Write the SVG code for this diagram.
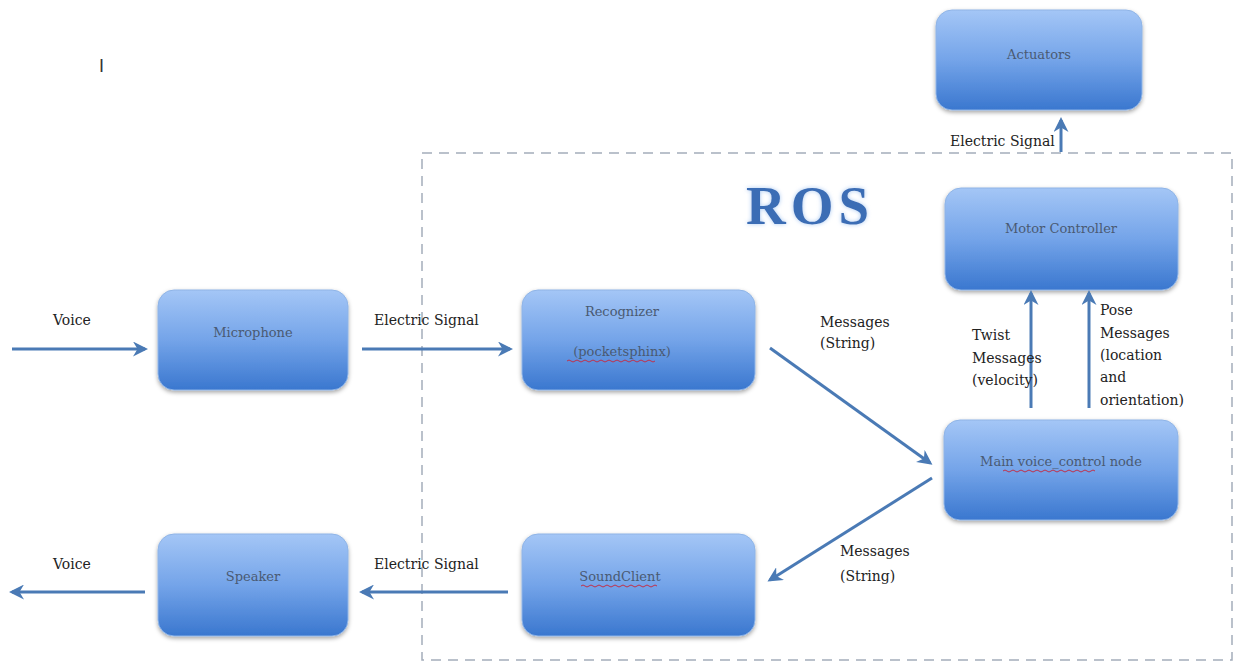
<svg xmlns="http://www.w3.org/2000/svg" width="1235" height="665" viewBox="0 0 1235 665">
<defs>
<linearGradient id="g" x1="0" y1="0" x2="0" y2="1">
<stop offset="0" stop-color="#a4c6f6"/>
<stop offset="0.5" stop-color="#74a4e9"/>
<stop offset="1" stop-color="#3a77cf"/>
</linearGradient>
<filter id="sh" x="-10%" y="-10%" width="120%" height="130%">
<feGaussianBlur in="SourceAlpha" stdDeviation="2"/>
<feOffset dy="2" result="b"/>
<feFlood flood-color="#000" flood-opacity="0.35"/>
<feComposite in2="b" operator="in"/>
<feMerge><feMergeNode/><feMergeNode in="SourceGraphic"/></feMerge>
</filter>
<filter id="glow" x="-20%" y="-20%" width="140%" height="140%">
<feGaussianBlur in="SourceAlpha" stdDeviation="2.5"/>
<feFlood flood-color="#a9c9f2"/>
<feComposite operator="in" in2="SourceAlpha"/>
<feGaussianBlur stdDeviation="2"/>
<feMerge><feMergeNode/><feMergeNode in="SourceGraphic"/></feMerge>
</filter>
<marker id="ah" viewBox="0 0 10 10" refX="8" refY="5" markerWidth="5" markerHeight="5" orient="auto">
<path d="M0,0 L10,5 L0,10 L3,5 Z" fill="#4a7ab5"/>
</marker>
</defs>
<style>
.node rect{fill:url(#g);stroke:#8fb4e6;stroke-width:1;filter:url(#sh)}
.node text{font-family:"DejaVu Serif","Liberation Serif",serif;font-size:13px;fill:#4a5a72;text-anchor:middle}
.lbl{font-family:"DejaVu Serif","Liberation Serif",serif;font-size:14px;fill:#222}
.conn line{stroke:#4a7ab5;stroke-width:3;marker-end:url(#ah)}
.sq{fill:none;stroke:#c0304a;stroke-width:1}
</style>
<rect width="1235" height="665" fill="#fff"/>
<text x="99" y="72" font-family="Liberation Sans, sans-serif" font-size="18" fill="#333">I</text>
<rect x="422" y="153" width="810" height="507" fill="none" stroke="#a4adbb" stroke-width="1.5" stroke-dasharray="10,7"/>
<text x="810" y="224" font-family="Liberation Serif, serif" font-weight="bold" font-size="55" letter-spacing="5" fill="#3a6db5" text-anchor="middle" filter="url(#glow)">ROS</text>
<g id="actuators" class="node"><rect x="936" y="10" width="206" height="100" rx="16"/><text x="1039" y="59">Actuators</text></g>
<g id="motor" class="node"><rect x="945" y="188" width="233" height="102" rx="16"/><text x="1061" y="233">Motor Controller</text></g>
<g id="microphone" class="node"><rect x="158" y="290" width="190" height="100" rx="16"/><text x="253" y="337">Microphone</text></g>
<g id="recognizer" class="node"><rect x="522" y="290" width="233" height="100" rx="16"/><text x="622" y="316">Recognizer</text><text x="622" y="356">(pocketsphinx)</text><path class="sq" d="M567,361 q2,-2 4,0 t4,0 t4,0 t4,0 t4,0 t4,0 t4,0 t4,0 t4,0 t4,0 t4,0 t4,0 t4,0 t4,0 t4,0 t4,0 t4,0 t4,0 t4,0 t4,0 t4,0 t4,0"/></g>
<g id="main" class="node"><rect x="944" y="420" width="234" height="100" rx="16"/><text x="1061" y="466">Main voice_control node</text><path class="sq" d="M1003,471 q2,-2 4,0 t4,0 t4,0 t4,0 t4,0 t4,0 t4,0 t4,0 t4,0 t4,0 t4,0 t4,0 t4,0 t4,0 t4,0 t4,0 t4,0 t4,0 t4,0 t4,0 t4,0 t4,0 t4,0"/></g>
<g id="speaker" class="node"><rect x="158" y="534" width="190" height="102" rx="16"/><text x="253" y="581">Speaker</text></g>
<g id="soundclient" class="node"><rect x="522" y="534" width="233" height="102" rx="16"/><text x="620" y="581">SoundClient</text><path class="sq" d="M581,586 q2,-2 4,0 t4,0 t4,0 t4,0 t4,0 t4,0 t4,0 t4,0 t4,0 t4,0 t4,0 t4,0 t4,0 t4,0 t4,0 t4,0 t4,0 t4,0 t4,0"/></g>
<g id="connectors" class="conn">
<line x1="12" y1="349" x2="145" y2="349"/>
<line x1="362" y1="349" x2="510" y2="349"/>
<line x1="770" y1="348" x2="930" y2="463"/>
<line x1="932" y1="478" x2="770" y2="580"/>
<line x1="508" y1="592" x2="362" y2="592"/>
<line x1="145" y1="592" x2="12" y2="592"/>
<line x1="1031" y1="408" x2="1031" y2="293"/>
<line x1="1089" y1="408" x2="1089" y2="293"/>
<line x1="1061" y1="152" x2="1061" y2="120"/>
</g>
<g id="labels" class="lbl">
<text x="53" y="325">Voice</text>
<text x="374" y="325">Electric Signal</text>
<text x="820" y="327">Messages</text>
<text x="820" y="348">(String)</text>
<text x="840" y="556">Messages</text>
<text x="840" y="581">(String)</text>
<text x="374" y="569">Electric Signal</text>
<text x="53" y="569">Voice</text>
<text x="972" y="340">Twist</text>
<text x="972" y="363">Messages</text>
<text x="972" y="385">(velocity)</text>
<text x="1100" y="315">Pose</text>
<text x="1100" y="338">Messages</text>
<text x="1100" y="360">(location</text>
<text x="1100" y="382">and</text>
<text x="1100" y="405">orientation)</text>
<text x="950" y="146">Electric Signal</text>
</g>
</svg>
